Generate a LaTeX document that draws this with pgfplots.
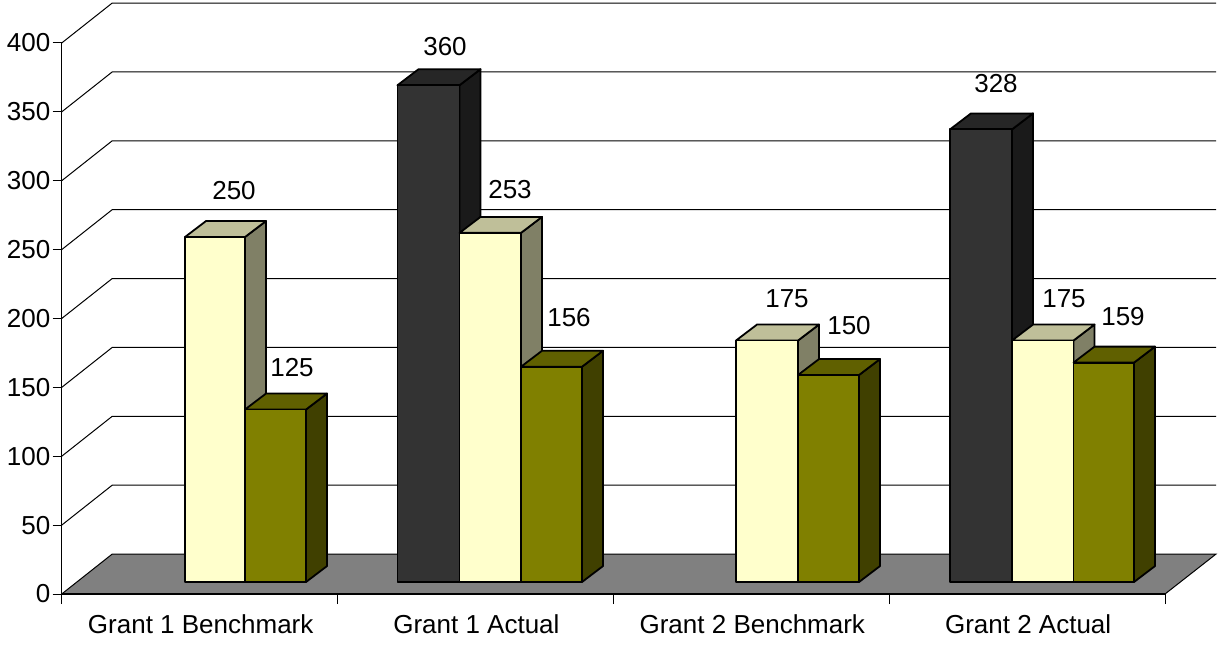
\documentclass[border=0pt]{standalone}
\usepackage{fontspec}
\setmainfont{Liberation Sans}
\usepackage{pgfplots}
\pgfplotsset{compat=1.18}
\definecolor{darkF}{HTML}{333333}\definecolor{darkT}{HTML}{262626}\definecolor{darkS}{HTML}{1A1A1A}
\definecolor{creamF}{HTML}{FFFFCC}\definecolor{creamT}{HTML}{BFBF99}\definecolor{creamS}{HTML}{808066}
\definecolor{oliveF}{HTML}{808000}\definecolor{oliveT}{HTML}{606000}\definecolor{oliveS}{HTML}{404000}
\definecolor{floorC}{HTML}{808080}
% #1 left px, #2 right px, #3 value, #4 colour stem
\newcommand\threedbar[4]{%
  \pgfmathsetmacro\yB{8.7}%
  \pgfmathsetmacro\yT{8.7+#3*1.0018}%
  \pgfmathsetmacro\yBb{\yB+11.6}%
  \pgfmathsetmacro\yTb{\yT+11.6}%
  \pgfmathsetmacro\xL{#1}\pgfmathsetmacro\xR{#2}%
  \pgfmathsetmacro\xLb{#1+21}\pgfmathsetmacro\xRb{#2+21}%
  \addplot[draw=black,line width=0.9pt,line join=round,fill=#4S] coordinates {(\xR,\yB)(\xRb,\yBb)(\xRb,\yTb)(\xR,\yT)} -- cycle;
  \addplot[draw=black,line width=0.9pt,line join=round,fill=#4T] coordinates {(\xL,\yT)(\xLb,\yTb)(\xRb,\yTb)(\xR,\yT)} -- cycle;
  \addplot[draw=black,line width=0.9pt,line join=round,fill=#4F] coordinates {(\xL,\yB)(\xL,\yT)(\xR,\yT)(\xR,\yB)} -- cycle;
}
\newcommand\wallline[2]{%
  \addplot[black,line width=0.5pt] coordinates {(61.7,#1)(112.2,#2)(1216,#2)};
}
\begin{document}
\begin{tikzpicture}
\useasboundingbox (0,0) rectangle (609pt,322pt);
\begin{axis}[
  anchor=south west, at={(30.85pt,25pt)},
  x=0.5pt, y=0.68875pt,
  xmin=61.7, xmax=1165, ymin=0, ymax=400,
  clip=false,
  axis lines=left,
  axis line style={-,black,line width=0.6pt},
  axis on top=true,
  tick align=outside,
  tick style={black,line width=0.5pt},
  major tick length=4.5pt,
  minor tick length=5pt,
  xtick={199.7,475.4,751.3,1027.1},
  xticklabels={Grant 1 Benchmark,Grant 1 Actual,Grant 2 Benchmark,Grant 2 Actual},
  minor xtick={61.7,337.5,613.3,889.2,1165},
  major x tick style={draw=none},
  ytick={0,50,100,150,200,250,300,350,400},
  tick label style={font=\fontsize{13}{15}\selectfont},
  xticklabel style={yshift=-2pt,xshift=0.5pt,text height=9.5pt,text depth=0pt},
  yticklabel style={inner xsep=1pt},
  /pgf/number format/assume math mode=true,
]
\wallline{400}{429}
\wallline{350}{379}
\wallline{300}{329}
\wallline{250}{279}
\wallline{200}{229}
\wallline{150}{179}
\wallline{100}{129}
\wallline{50}{79}
\addplot[black,line width=0.5pt,fill=floorC] coordinates {(61.7,0)(112.2,29)(1216,29)(1165,0)} -- cycle;
% Grant 1 Benchmark
\threedbar{185}{245}{250}{cream}
\threedbar{245}{306}{125}{olive}
% Grant 1 Actual
\threedbar{397.5}{459.5}{360}{dark}
\threedbar{459.5}{521}{253}{cream}
\threedbar{521}{582}{156}{olive}
% Grant 2 Benchmark
\threedbar{736}{798}{175}{cream}
\threedbar{798}{859}{150}{olive}
% Grant 2 Actual
\threedbar{950}{1012}{328}{dark}
\threedbar{1012}{1073.5}{175}{cream}
\threedbar{1073.5}{1134}{159}{olive}
% value labels
\addplot[draw=none,mark=none,point meta=explicit,nodes near coords,
  every node near coord/.style={anchor=center,inner sep=0pt,font=\fontsize{13}{15}\selectfont}] coordinates {
 (234,292.6)[250] (292,164.1)[125] (445,397.1)[360] (510,293.3)[253] (569,200.4)[156]
 (787,214.2)[175] (849,194.6)[150] (996,370.2)[328] (1064,214.2)[175] (1123,201.1)[159]};
\end{axis}
\end{tikzpicture}
\end{document}
